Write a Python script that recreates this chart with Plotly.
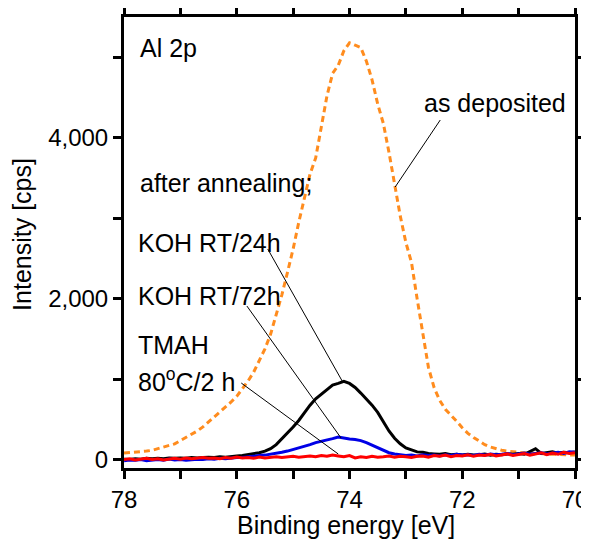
import plotly.graph_objects as go

energy = [round(78.0 - 0.1 * i, 1) for i in range(81)]

as_deposited = [85, 90, 95, 105, 110, 120, 140, 160, 180, 200,
                240, 280, 310, 360, 410, 470, 530, 600, 650, 720,
                790, 880, 980, 1090, 1230, 1380, 1560, 1800, 2050, 2330,
                2620, 2950, 3250, 3550, 3750, 4150, 4520, 4800, 4900, 5080,
                5180, 5150, 5120, 4950, 4720, 4420, 4180, 3820, 3420, 3030,
                2700, 2450, 2000, 1550, 1150, 900, 740, 630, 560, 480,
                400, 330, 280, 230, 190, 160, 140, 120, 110, 100,
                95, 90, 85, 80, 75, 75, 70, 70, 65, 65,
                60]

koh_24h = [10, 5, 15, 10, 20, 15, 20, 15, 25, 20,
           25, 20, 30, 25, 30, 35, 30, 40, 35, 45,
           50, 55, 65, 75, 90, 110, 140, 190, 260, 340,
           410, 490, 590, 680, 760, 820, 880, 930, 950, 975,
           950, 900, 830, 760, 680, 590, 470, 360, 270, 200,
           150, 120, 100, 95, 80, 75, 70, 80, 65, 70,
           60, 70, 60, 65, 75, 60, 70, 65, 75, 70,
           80, 70, 110, 140, 80, 90, 100, 85, 95, 90,
           100]

koh_72h = [-10, 0, -5, 5, -10, 0, 5, -5, 10, 0,
           5, -5, 0, 10, 5, 15, 10, 20, 15, 25,
           30, 30, 40, 45, 55, 60, 70, 80, 95, 110,
           130, 145, 165, 190, 215, 230, 250, 265, 285, 270,
           260, 255, 240, 215, 185, 150, 115, 90, 75, 65,
           55, 60, 50, 65, 55, 60, 50, 65, 55, 70,
           60, 65, 55, 70, 60, 75, 65, 70, 80, 65,
           75, 85, 70, 80, 90, 75, 85, 95, 80, 100,
           95]

tmah_2h = [5, 15, 0, 10, 20, 5, 15, 0, 10, 20,
           10, 25, 15, 20, 30, 20, 25, 15, 30, 20,
           35, 25, 30, 20, 35, 25, 30, 40, 30, 35,
           45, 35, 40, 50, 40, 55, 45, 60, 50, 40,
           55, 25, 40, 30, 45, 35, 40, 50, 35, 45,
           40, 30, 45, 50, 35, 55, 45, 60, 40, 55,
           50, 65, 45, 60, 55, 70, 50, 65, 75, 55,
           70, 80, 60, 75, 90, 65, 85, 70, 95, 80,
           90]

x_ticks = [78, 76, 74, 72, 70]
x_labels = ["78", "76", "74", "72", "70"]
y_ticks = [0, 2000, 4000]
y_labels = ["0", "2,000", "4,000"]

FONT = "Liberation Sans, Arial, sans-serif"

fig = go.Figure()
fig.add_trace(go.Scatter(x=energy, y=as_deposited, mode="lines",
                         line=dict(color="#FF8C1E", width=3, dash="6px,4px")))
fig.add_trace(go.Scatter(x=energy, y=koh_24h, mode="lines",
                         line=dict(color="#000000", width=3)))
fig.add_trace(go.Scatter(x=energy, y=koh_72h, mode="lines",
                         line=dict(color="#0000E6", width=3)))
fig.add_trace(go.Scatter(x=energy, y=tmah_2h, mode="lines",
                         line=dict(color="#FF0000", width=3)))

# leader lines (label end -> curve end)
leaders = [
    (72.39, 4221, 73.19, 3389),
    (75.45, 2619, 74.12, 968),
    (75.82, 1911, 74.15, 272),
    (75.92, 955, 74.20, 74),
]
for x0, y0, x1, y1 in leaders:
    fig.add_shape(type="line", xref="x", yref="y", x0=x0, y0=y0, x1=x1, y1=y1,
                  line=dict(color="black", width=1))

labels = [
    ("Al 2p", 77.75, 5115, "left"),
    ("as deposited", 70.12, 4432, "right"),
    ("after annealing;", 77.75, 3439, "left"),
    ("KOH RT/24h", 77.79, 2694, "left"),
    ("KOH RT/72h", 77.79, 2036, "left"),
    ("TMAH", 77.79, 1427, "left"),
    ("80<sup>o</sup>C/2 h", 77.79, 993, "left"),
]
for text, x, y, anchor in labels:
    fig.add_annotation(x=x, y=y, xref="x", yref="y", text=text, showarrow=False,
                       xanchor=anchor, yanchor="middle",
                       font=dict(family=FONT, size=25, color="black"))

# axis titles
fig.add_annotation(x=0.492, y=-0.126, xref="paper", yref="paper",
                   text="Binding energy [eV]", showarrow=False,
                   xanchor="center", yanchor="middle",
                   font=dict(family=FONT, size=25, color="black"))
fig.add_annotation(x=-0.226, y=0.517, xref="paper", yref="paper",
                   text="Intensity [cps]", showarrow=False, textangle=-90,
                   xanchor="center", yanchor="middle",
                   font=dict(family=FONT, size=25, color="black"))

axis_common = dict(showline=True, linecolor="black", linewidth=3, mirror="allticks",
                   ticks="outside", ticklen=8, tickwidth=2.5, tickcolor="black",
                   showgrid=False, zeroline=False, automargin=False,
                   tickfont=dict(family=FONT, size=24, color="black"))

fig.update_xaxes(range=[78, 70], tickmode="array", tickvals=x_ticks, ticktext=x_labels,
                 minor=dict(dtick=1, tick0=70, ticks="outside", ticklen=8, tickwidth=2.5,
                            tickcolor="black", showgrid=False),
                 **axis_common)
fig.update_yaxes(range=[-100, 5500], tickmode="array", tickvals=y_ticks, ticktext=y_labels,
                 minor=dict(dtick=1000, tick0=0, ticks="outside", ticklen=8, tickwidth=2.5,
                            tickcolor="black", showgrid=False),
                 **axis_common)

fig.update_layout(width=581, height=542, showlegend=False,
                  margin=dict(l=116, r=14, t=9, b=82),
                  plot_bgcolor="white", paper_bgcolor="white",
                  font=dict(family=FONT, color="black"))

fig.write_html("out.html")
